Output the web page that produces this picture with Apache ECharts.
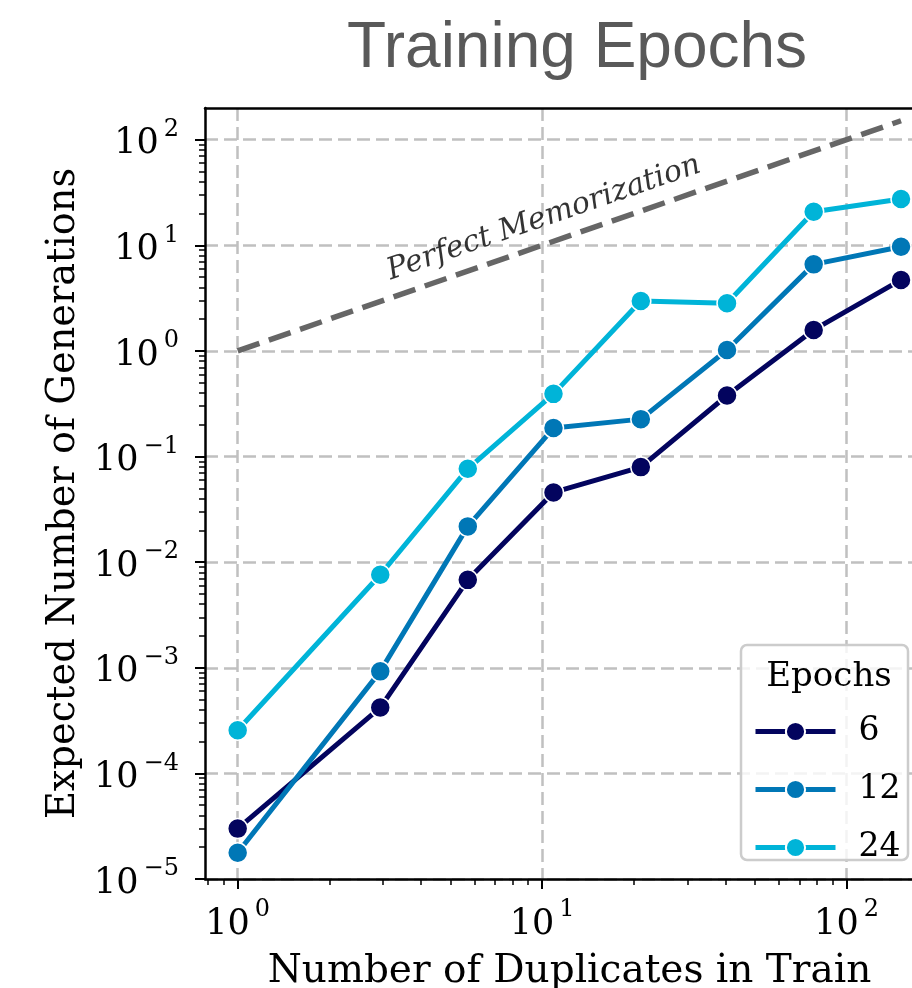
<!DOCTYPE html>
<html><head><meta charset="utf-8">
<script src="https://cdn.jsdelivr.net/npm/echarts@6/dist/echarts.min.js"></script>
<style>html,body{margin:0;padding:0;background:#fff}#c{width:912px;height:988px}</style>
</head><body><div id="c"></div>
<script>
// ---- data ----
const duplicates = [1, 2.94, 5.7, 10.9, 21.1, 40.5, 78, 151];
const epochs6  = [3.0e-5, 4.2e-4, 6.8e-3, 0.0457, 0.0794, 0.378, 1.58, 4.7];
const epochs12 = [1.77e-5, 9.25e-4, 0.0218, 0.186, 0.226, 1.02, 6.6, 9.7];
const epochs24 = [2.56e-4, 7.6e-3, 0.0765, 0.392, 2.97, 2.83, 20.8, 27.4];
const seriesNames = ['6', '12', '24'];
const perfectLine = [[1, 1], [151, 151]];
const perfectLabelAt = [10.14, 18.1];
const xMajorTicks = [1, 10, 100];
const xMinorTicks = [0.8, 0.9, 2, 3, 4, 5, 6, 7, 8, 9, 20, 30, 40, 50, 60, 70, 80, 90];
const yMajorTicks = [1e-5, 1e-4, 1e-3, 1e-2, 1e-1, 1, 10, 100];
const yMinorMantissas = [2, 3, 4, 5, 6, 7, 8, 9];
const yMinorDecades = [-5, -4, -3, -2, -1, 0, 1];
const yMinorTicks = [];
yMinorDecades.forEach(e => yMinorMantissas.forEach(m => yMinorTicks.push(+(m * Math.pow(10, e)).toPrecision(3))));

const colors = {'6': '#03045e', '12': '#0077b6', '24': '#00b4d8'};
const values = {'6': epochs6, '12': epochs12, '24': epochs24};
const X_MIN = 0.781, X_MAX = 193.8, Y_MIN = 1e-5, Y_MAX = 199.5;

const SERIF = '"DejaVu Serif", serif';
function sup(v) {
  const e = Math.round(Math.log10(v));
  return '{b|10}{s|' + (e < 0 ? '\u2212' : '') + Math.abs(e) + '}';
}
const rich = {
  b: {fontFamily: SERIF, fontSize: 35, color: '#000', verticalAlign: 'bottom', lineHeight: 44},
  s: {fontFamily: SERIF, fontSize: 24, color: '#000', verticalAlign: 'top', lineHeight: 44, padding: [0, 0, 14, 5]}
};
const gridLine = {show: true, lineStyle: {color: '#c0c0c0', width: 2.5, type: [13, 6]}};

const chart = echarts.init(document.getElementById('c'), null, {renderer: 'canvas'});
const series = seriesNames.map(n => ({
  name: n, type: 'line', xAxisIndex: 0, yAxisIndex: 0,
  data: duplicates.map((x, i) => [x, values[n][i]]),
  symbol: 'circle', symbolSize: 20,
  lineStyle: {width: 5, color: colors[n]},
  itemStyle: {color: colors[n], borderColor: '#fff', borderWidth: 1.5},
  z: 3, silent: true
}));
series.unshift({
  name: 'perfect', type: 'line', xAxisIndex: 0, yAxisIndex: 0,
  data: perfectLine, symbol: 'none', silent: true, z: 2,
  lineStyle: {color: '#666666', width: 5.5, type: [23, 10]}
});
series.push({
  name: 'perfectLabel', type: 'scatter', xAxisIndex: 0, yAxisIndex: 0,
  data: [perfectLabelAt], symbolSize: 0.1, silent: true,
  itemStyle: {color: 'rgba(0,0,0,0)'},
  label: {show: true, position: 'inside', formatter: 'Perfect Memorization', rotate: 19.1,
    fontFamily: SERIF, fontStyle: 'italic', fontSize: 30, color: '#000'}
});

chart.setOption({
  animation: false,
  backgroundColor: '#fff',
  title: {text: 'Training Epochs', left: 347, top: 17, padding: 0,
    textStyle: {fontFamily: '"Liberation Sans", Arial, sans-serif', fontSize: 64, fontWeight: 'normal', color: '#595959'}},
  grid: {left: 205, top: 108, right: -22, bottom: 109, outerBoundsMode: 'none', containLabel: false},
  legend: {data: seriesNames, orient: 'vertical', left: 753, top: 715, padding: 0,
    itemWidth: 80, itemHeight: 24, itemGap: 25, z: 6,
    lineStyle: {width: 5},
    textStyle: {fontFamily: SERIF, fontSize: 33, color: '#000', padding: [0, 0, 0, 18]}},
  graphic: [
    {type: 'rect', z: 5, shape: {x: 741, y: 645, width: 167, height: 215, r: 6},
      style: {fill: 'rgba(255,255,255,0.8)', stroke: '#cccccc', lineWidth: 2.5}},
    {type: 'text', z: 6, x: 829, y: 677,
      style: {text: 'Epochs', font: '34px "DejaVu Serif"', fill: '#000', align: 'center', verticalAlign: 'middle', textAlign: 'center', textVerticalAlign: 'middle'}}
  ],
  xAxis: [
    {type: 'log', logBase: 10, min: X_MIN, max: X_MAX, position: 'bottom',
      name: 'Number of Duplicates in Train', nameLocation: 'middle', nameGap: 73,
      nameTextStyle: {fontFamily: SERIF, fontSize: 39, color: '#000'},
      axisLine: {show: true, lineStyle: {color: '#000', width: 2.5}},
      axisTick: {show: true, customValues: xMajorTicks, length: 10, lineStyle: {color: '#000', width: 2}},
      axisLabel: {show: true, customValues: xMajorTicks, formatter: sup, rich: rich, margin: 19},
      splitLine: gridLine, minorTick: {show: false}, minorSplitLine: {show: false}},
    {type: 'log', logBase: 10, min: X_MIN, max: X_MAX, position: 'bottom',
      axisLine: {show: false},
      axisTick: {show: true, customValues: xMinorTicks, length: 6, lineStyle: {color: '#000', width: 1.5}},
      axisLabel: {show: false}, splitLine: {show: false}},
    {type: 'log', logBase: 10, min: X_MIN, max: X_MAX, position: 'top',
      axisLine: {show: true, lineStyle: {color: '#000', width: 2.5}},
      axisTick: {show: false}, axisLabel: {show: false}, splitLine: {show: false}}
  ],
  yAxis: [
    {type: 'log', logBase: 10, min: Y_MIN, max: Y_MAX, position: 'left',
      name: 'Expected Number of Generations', nameLocation: 'middle', nameGap: 122,
      nameTextStyle: {fontFamily: SERIF, fontSize: 38.3, color: '#000'},
      axisLine: {show: true, lineStyle: {color: '#000', width: 2.5}},
      axisTick: {show: true, customValues: yMajorTicks, length: 10, lineStyle: {color: '#000', width: 2}},
      axisLabel: {show: true, customValues: yMajorTicks, formatter: sup, rich: rich, margin: 26},
      splitLine: gridLine},
    {type: 'log', logBase: 10, min: Y_MIN, max: Y_MAX, position: 'left',
      axisLine: {show: false},
      axisTick: {show: true, customValues: yMinorTicks, length: 6, lineStyle: {color: '#000', width: 1.5}},
      axisLabel: {show: false}, splitLine: {show: false}}
  ],
  series: series
});
</script>
</body></html>
